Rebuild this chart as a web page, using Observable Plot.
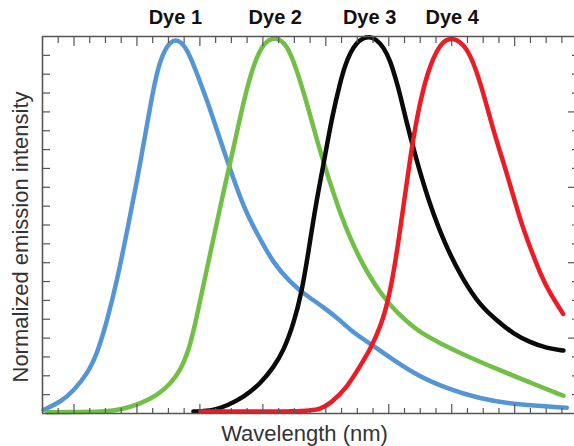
<!DOCTYPE html>
<html>
<head>
<meta charset="utf-8">
<script src="https://cdn.jsdelivr.net/npm/d3@7"></script>
<script src="https://cdn.jsdelivr.net/npm/@observablehq/plot@0.6"></script>
<style>
  html, body { margin: 0; padding: 0; background: #fff; }
  svg { display: block; }
</style>
</head>
<body>
<div id="chart"></div>
<script>
// ---- Data ----
const dyeNames = ["Dye 1", "Dye 2", "Dye 3", "Dye 4"];

const dye1Wavelength = [480.8, 491.4, 499.9, 508.4, 514.7, 521.1, 527.4, 533.8, 540.1, 546.5, 551.7, 557.0, 564.4, 571.9, 578.2, 584.6, 590.9, 599.4, 607.8, 616.3, 626.9, 637.5, 645.9, 658.6, 669.2, 675.6, 694.6, 715.7, 736.9, 758.1, 779.2, 813.1];
const dye1Intensity  = [0.010, 0.030, 0.061, 0.105, 0.158, 0.247, 0.353, 0.485, 0.618, 0.768, 0.892, 0.965, 1.000, 0.970, 0.901, 0.830, 0.751, 0.645, 0.547, 0.477, 0.397, 0.348, 0.318, 0.282, 0.247, 0.220, 0.167, 0.105, 0.066, 0.039, 0.024, 0.015];

const dye2Wavelength = [483.0, 504.1, 521.1, 531.6, 542.2, 552.8, 561.3, 567.6, 572.9, 577.1, 582.4, 588.8, 595.1, 601.5, 607.8, 614.2, 620.5, 627.9, 635.4, 641.7, 648.1, 654.4, 660.8, 669.2, 675.6, 681.9, 688.3, 694.6, 700.9, 707.3, 713.7, 720.0, 732.7, 747.5, 768.7, 789.8, 811.0];
const dye2Intensity  = [0.003, 0.004, 0.005, 0.012, 0.026, 0.048, 0.079, 0.114, 0.167, 0.238, 0.344, 0.468, 0.591, 0.706, 0.830, 0.928, 0.985, 1.000, 0.980, 0.910, 0.821, 0.724, 0.636, 0.530, 0.464, 0.408, 0.361, 0.321, 0.288, 0.260, 0.236, 0.215, 0.186, 0.156, 0.118, 0.082, 0.047];

const dye3Wavelength = [575.9, 588.8, 597.3, 607.8, 618.4, 626.9, 633.2, 639.6, 644.9, 649.1, 653.3, 658.6, 663.9, 669.2, 672.4, 675.6, 679.8, 683.8, 687.8, 692.1, 696.7, 701.0, 704.1, 707.3, 710.5, 716.8, 725.1, 735.9, 746.7, 758.1, 768.7, 779.2, 789.8, 800.4, 811.0];
const dye3Intensity  = [0.005, 0.008, 0.021, 0.043, 0.079, 0.123, 0.167, 0.238, 0.326, 0.432, 0.547, 0.662, 0.786, 0.880, 0.925, 0.958, 0.985, 0.996, 1.000, 0.992, 0.972, 0.935, 0.892, 0.845, 0.786, 0.684, 0.565, 0.446, 0.358, 0.286, 0.247, 0.211, 0.189, 0.173, 0.167];

const dye4Wavelength = [580.3, 648.1, 656.5, 662.9, 673.5, 681.9, 688.3, 694.6, 697.8, 701.0, 704.1, 707.3, 710.5, 713.7, 718.0, 724.3, 732.7, 740.3, 749.8, 758.1, 766.3, 775.2, 783.5, 789.8, 796.2, 802.5, 810.8];
const dye4Intensity  = [0.005, 0.005, 0.012, 0.026, 0.069, 0.127, 0.170, 0.230, 0.272, 0.328, 0.400, 0.490, 0.585, 0.680, 0.790, 0.905, 0.985, 1.000, 0.975, 0.883, 0.751, 0.636, 0.512, 0.441, 0.371, 0.318, 0.264];

// tick values
const xMajorTicks = [500, 540, 580, 620, 660, 700, 740, 780];
const xMinorTicks = [490, 510, 520, 530, 550, 560, 570, 590, 600, 610, 630, 640, 650, 670, 680, 690, 710, 720, 730, 750, 760, 770, 790, 800, 810];
const yMajorTicks = [0.2, 0.4, 0.6, 0.8];
const yMinorTicks = [0.05, 0.1, 0.15, 0.25, 0.3, 0.35, 0.45, 0.5, 0.55, 0.65, 0.7, 0.75, 0.85, 0.9, 0.95];

const xLabel = "Wavelength (nm)";
const yLabel = "Normalized emission intensity";

// ---- Styles ----
const dyeColors = ["#5495d6", "#71bf44", "#0a0a0a", "#ec1c24"];
const axisColor = "#555";

// ---- Build tables ----
const seriesW = [dye1Wavelength, dye2Wavelength, dye3Wavelength, dye4Wavelength];
const seriesI = [dye1Intensity, dye2Intensity, dye3Intensity, dye4Intensity];
const rows = [];
dyeNames.forEach((name, k) => {
  seriesW[k].forEach((w, i) => rows.push({dye: name, wavelength: w, intensity: seriesI[k][i]}));
});
const peaks = dyeNames.map((name, k) => {
  const i = d3.maxIndex(seriesI[k]);
  return {dye: name, wavelength: seriesW[k][i]};
});

const chart = Plot.plot({
  width: 574,
  height: 446,
  marginLeft: 42,
  marginRight: 0,
  marginTop: 36,
  marginBottom: 33,
  style: {fontFamily: "'Liberation Sans', Arial, sans-serif", background: "#fff"},
  x: {domain: [480, 818]},
  y: {domain: [0, 1]},
  color: {domain: dyeNames, range: dyeColors},
  marks: [
    Plot.line(rows, {
      x: "wavelength", y: "intensity", z: "dye", stroke: "dye",
      strokeWidth: 4.5, curve: "basis"
    }),
    // frame lines (left, top, bottom)
    Plot.ruleX([480], {stroke: axisColor, strokeWidth: 1.6}),
    Plot.ruleY([0, 1], {stroke: axisColor, strokeWidth: 1.6}),
    // bottom axis ticks (inward)
    Plot.axisX(xMinorTicks, {anchor: "bottom", tickSize: -5, fill: "none", stroke: axisColor, strokeWidth: 1.2}),
    Plot.axisX(xMajorTicks, {anchor: "bottom", tickSize: -9, fill: "none", stroke: axisColor, strokeWidth: 1.2}),
    // top axis ticks (inward)
    Plot.axisX(xMinorTicks, {anchor: "top", tickSize: -6, fill: "none", stroke: axisColor, strokeWidth: 1.2}),
    Plot.axisX(xMajorTicks, {anchor: "top", tickSize: -9, fill: "none", stroke: axisColor, strokeWidth: 1.2}),
    // left axis ticks (inward)
    Plot.axisY([...yMinorTicks, ...yMajorTicks], {anchor: "left", tickSize: -8, fill: "none", stroke: axisColor, strokeWidth: 1.2}),
    // right axis ticks (inward)
    Plot.axisY(yMinorTicks, {anchor: "right", tickSize: -3, fill: "none", stroke: axisColor, strokeWidth: 1.2}),
    Plot.axisY(yMajorTicks, {anchor: "right", tickSize: -7, fill: "none", stroke: axisColor, strokeWidth: 1.2}),
    // dye labels above peaks
    Plot.text(peaks, {
      x: "wavelength", text: "dye", frameAnchor: "top", lineAnchor: "bottom",
      dy: -12.5, fontSize: 20, fontWeight: "bold", fill: "#111"
    }),
    // axis labels
    Plot.text([xLabel], {
      frameAnchor: "bottom", lineAnchor: "bottom", textAnchor: "middle", dy: 27, dx: -4,
      fontSize: 22, fill: "#333"
    }),
    Plot.text([yLabel], {
      frameAnchor: "left", rotate: -90, lineAnchor: "middle", textAnchor: "middle", dx: -22, dy: 12,
      fontSize: 22, fill: "#333"
    })
  ]
});
document.getElementById("chart").appendChild(chart);
</script>
</body>
</html>
